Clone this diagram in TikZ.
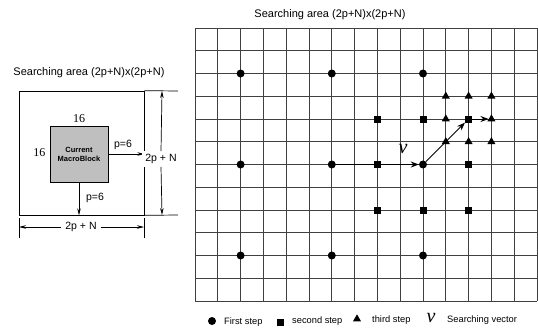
\documentclass[tikz,border=0pt]{standalone}
\usepackage{fontspec}
\setmainfont{Liberation Sans}
\newfontfamily\seriffont{Liberation Serif}
\usetikzlibrary{arrows.meta,positioning,shapes.geometric}
\begin{document}
\begin{tikzpicture}[x=1pt,y=-1pt,
  gridline/.style={black!75,line width=0.8pt},
  dotmark/.style={circle,fill=black,inner sep=0pt,minimum size=8pt},
  sqmark/.style={rectangle,fill=black,inner sep=0pt,minimum size=7pt},
  trimark/.style={isosceles triangle,isosceles triangle apex angle=60,shape border rotate=90,fill=black,inner sep=0pt,minimum height=7pt,minimum width=8pt},
  vec/.style={line width=0.9pt,-{Stealth[length=8pt,width=6pt]}},
  dim/.style={line width=0.7pt,-{Stealth[length=7pt,width=3.5pt]}},
  thin/.style={line width=0.7pt},
  lbl/.style={font=\fontsize{10.5}{12}\selectfont,inner sep=1pt},
  ttl/.style={font=\fontsize{11}{13}\selectfont,inner sep=1pt},
  leg/.style={font=\fontsize{9.3}{11}\selectfont,inner sep=1pt,anchor=west},
  serifnum/.style={font=\seriffont\fontsize{12}{14}\selectfont,inner sep=1pt},
  vsym/.style={font=\seriffont\itshape\fontsize{20}{22}\selectfont,inner sep=0pt}
]
\useasboundingbox (0,0) rectangle (538,332);
% ---------- left diagram ----------
\node[ttl] (ltitle) at (89,73) {Searching area (2p+N)x(2p+N)};
\node[draw,thin,minimum width=125pt,minimum height=124pt,inner sep=0pt] (outer) at (81.5,153) {};
\node[draw,thin,fill=black!25,minimum width=58pt,minimum height=56pt,inner sep=0pt,align=center,
      font=\bfseries\fontsize{7.5}{9}\selectfont] (mb) at (79,154) {Current\\MacroBlock};
\node[serifnum,above=2pt of mb] (n16a) {16};
\node[serifnum,left=3pt of mb,yshift=1pt] (n16b) {16};
\coordinate (rtip) at (outer.east |- mb.east);
\draw[dim] (mb.east) -- (rtip);
\node[lbl] (p6a) at (123,145) {p=6};
\coordinate (btip) at (mb.south |- outer.south);
\draw[dim] (mb.south) -- (btip);
\node[lbl] (p6b) at (95,198) {p=6};
% vertical dimension
\coordinate (vt) at (162,91);
\coordinate (vb) at (162,215);
\draw[thin] (outer.north east) -- (178,91);
\draw[thin] (outer.south east) -- (178,215);
\node[lbl,fill=white,inner sep=3pt] (vlab) at (161,159) {2p + N};
\draw[dim] (vlab.north) -- (vt);
\draw[dim] (vlab.south) -- (vb);
% horizontal dimension
\draw[thin] (19,218) -- (19,238);
\draw[thin] (144,218) -- (144,238);
\node[lbl,fill=white,inner sep=4pt] (hlab) at (81,227) {2p + N};
\coordinate (hl) at (19,227);
\coordinate (hr) at (144,227);
\draw[dim] (hlab.west) -- (hl);
\draw[dim] (hlab.east) -- (hr);
% ---------- right grid ----------
\node[ttl] (rtitle) at (330,15) {Searching area (2p+N)x(2p+N)};
\foreach \i in {0,...,15} \draw[gridline] (195+22.8*\i,28) -- (195+22.8*\i,301);
\foreach \j in {0,...,12} \draw[gridline] (195,28+22.75*\j) -- (537,28+22.75*\j);
\foreach \c in {0,...,15} \foreach \r in {0,...,12}
  \coordinate (g-\c-\r) at (195+22.8*\c,28+22.75*\r);
% first step
\foreach \c in {2,6,10} \foreach \r in {2,6,10}
  \node[dotmark] (d-\c-\r) at (g-\c-\r) {};
% second step
\foreach \c/\r in {8/4,10/4,12/4,8/6,12/6,8/8,10/8,12/8}
  \node[sqmark] (s-\c-\r) at (g-\c-\r) {};
% third step
\foreach \c/\r in {11/3,12/3,13/3,11/4,13/4,11/5,12/5,13/5}
  \node[trimark,anchor=center] (t-\c-\r) at (g-\c-\r) {};
% search vector path
\draw[vec] (d-6-6) -- (d-10-6);
\draw[vec] (d-10-6) -- (s-12-4);
\draw[vec] (s-12-4) -- (t-13-4);
\node[vsym] (vlbl) at (403,149) {v};
% ---------- legend ----------
\node[dotmark] (ld) at (212,321) {};
\node[leg] (lt1) at (223,322) {First step};
\node[sqmark] (ls) at (280,322) {};
\node[leg] (lt2) at (291,321) {second step};
\node[trimark] (lt) at (357,319) {};
\node[leg] (lt3) at (371,320) {third step};
\node[vsym] (lv) at (431,318) {v};
\node[leg] (lt4) at (446,320) {Searching vector};
\end{tikzpicture}
\end{document}
